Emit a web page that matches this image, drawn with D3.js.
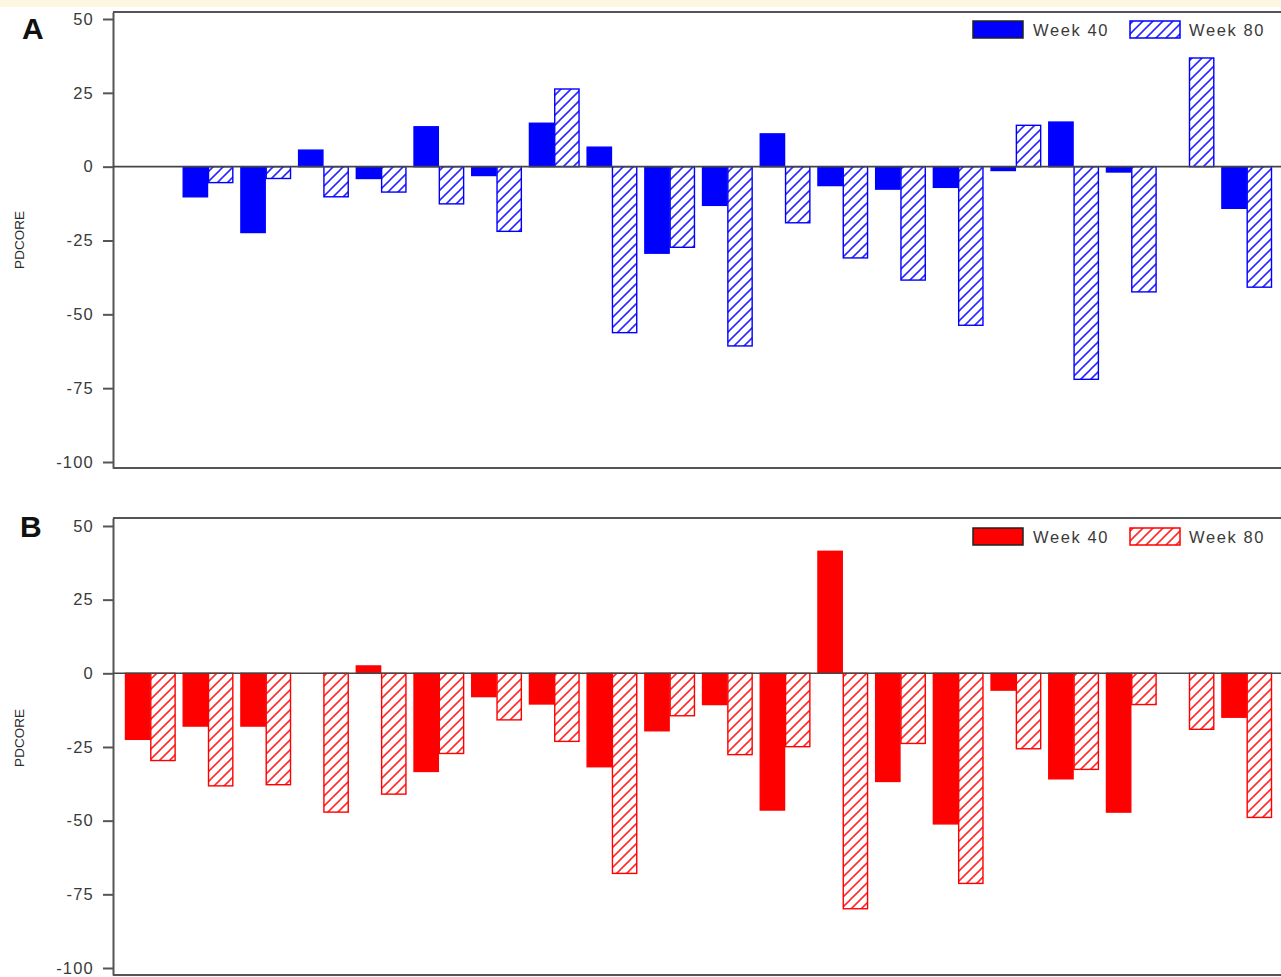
<!DOCTYPE html>
<html>
<head>
<meta charset="utf-8">
<script src="https://cdn.jsdelivr.net/npm/d3@7"></script>
<style>
  html, body { margin: 0; padding: 0; background: #ffffff; }
  svg { display: block; font-family: "Liberation Sans", Arial, sans-serif; }
</style>
</head>
<body>
<script>
// Subjects along the x axis (not labelled on the chart)
const subjects = ["S01","S02","S03","S04","S05","S06","S07","S08","S09","S10",
                  "S11","S12","S13","S14","S15","S16","S17","S18","S19","S20"];
const weeks = ["Week 40", "Week 80"];
const yTicks = [50, 25, 0, -25, -50, -75, -100];

// Panel A: change in PDCORE per subject (null = no value)
const aWeek40 = [null, -10.2, -22.3, 5.6, -4.0, 13.5, -3.0, 14.7, 6.6, -29.3,
                 -13.1, 11.1, -6.4, -7.6, -7.0, -1.3, 15.1, -1.8, null, -14.1];
const aWeek80 = [null, -5.4, -4.0, -10.2, -8.6, -12.6, -21.9, 26.3, -56.2, -27.3,
                 -60.7, -19.0, -30.9, -38.4, -53.7, 14.0, -72.0, -42.4, 36.8, -40.8];

// Panel B: change in PDCORE per subject (null = no value)
const bWeek40 = [-22.4, -17.9, -17.9, null, 2.5, -33.3, -7.9, -10.4, -31.7, -19.5,
                 -10.6, -46.4, 41.4, -36.7, -51.1, -5.7, -35.8, -47.1, null, -14.9];
const bWeek80 = [-29.6, -38.2, -37.8, -47.1, -41.0, -27.2, -15.8, -23.1, -67.9, -14.4,
                 -27.6, -24.9, -79.9, -23.8, -71.3, -25.6, -32.6, -10.6, -19.0, -48.9];

const W = 1281, H = 977;
const svg = d3.select("body").append("svg").attr("width", W).attr("height", H);

// thin cream strip along the top edge
svg.append("rect").attr("x", 0).attr("y", 0).attr("width", W).attr("height", 7)
   .attr("fill", "#fdf6e1");

const defs = svg.append("defs");
function hatch(id, color) {
  const s = 10;
  const p = defs.append("pattern").attr("id", id)
    .attr("patternUnits", "userSpaceOnUse").attr("width", s).attr("height", s);
  p.append("rect").attr("width", s).attr("height", s).attr("fill", "#fff");
  p.append("path").attr("d", `M-2,2 L2,-2 M0,${s} L${s},0 M${s - 2},${s + 2} L${s + 2},${s - 2}`)
    .attr("stroke", color).attr("stroke-width", 1.6).attr("fill", "none");
}
hatch("hatchBlue", "#2a2aff");
hatch("hatchRed", "#ff2a2a");

const axisColor = "#555";
const textColor = "#3a3a3a";

const x = d3.scaleBand().domain(subjects).range([113, 1284])
  .paddingInner(0.123).paddingOuter(0.208);
const xInner = d3.scaleBand().domain(weeks).range([0, x.bandwidth()]);

function drawPanel(opt) {
  const g = svg.append("g");
  const y = d3.scaleLinear().domain(opt.domain).range([opt.bottom, opt.top]);

  // frame: top and bottom lines running to the right edge
  g.append("line").attr("x1", 113).attr("x2", W + 5)
    .attr("y1", opt.top).attr("y2", opt.top)
    .attr("stroke", axisColor).attr("stroke-width", 2);
  g.append("line").attr("x1", 113).attr("x2", W + 5)
    .attr("y1", opt.bottom).attr("y2", opt.bottom)
    .attr("stroke", axisColor).attr("stroke-width", 2);

  // y axis
  const ax = g.append("g").attr("transform", "translate(113,0)")
    .call(d3.axisLeft(y).tickValues(yTicks).tickFormat(d => String(d))
      .tickSize(10).tickSizeOuter(0).tickPadding(9));
  ax.select(".domain").attr("stroke", axisColor).attr("stroke-width", 2);
  ax.selectAll(".tick line").attr("stroke", axisColor).attr("stroke-width", 2);
  ax.selectAll(".tick text").attr("fill", textColor)
    .style("font-size", "16.5px").style("letter-spacing", "1.2px")
    .style("font-family", "'Liberation Sans', Arial, sans-serif");

  // bars
  const series = [
    { key: "Week 40", values: opt.w40, fill: opt.color, stroke: opt.color },
    { key: "Week 80", values: opt.w80, fill: "url(#" + opt.hatch + ")", stroke: opt.color }
  ];
  series.forEach(s => {
    const rows = subjects.map((d, i) => ({ subject: d, v: s.values[i] }))
                         .filter(r => r.v !== null);
    g.append("g").selectAll("rect").data(rows).join("rect")
      .attr("x", r => x(r.subject) + xInner(s.key) + 0.5)
      .attr("width", xInner.bandwidth() - 1)
      .attr("y", r => y(Math.max(0, r.v)))
      .attr("height", r => Math.abs(y(r.v) - y(0)))
      .attr("fill", s.fill)
      .attr("stroke", s.stroke).attr("stroke-width", 1.4);
  });

  // zero line
  g.append("line").attr("x1", 113).attr("x2", W + 5)
    .attr("y1", y(0)).attr("y2", y(0))
    .attr("stroke", "#444").attr("stroke-width", 1.6);

  // panel letter
  g.append("text").attr("x", opt.letterX).attr("y", opt.letterY)
    .attr("font-size", 30).attr("font-weight", "bold").attr("fill", "#111")
    .text(opt.letter);

  // y axis title
  g.append("text")
    .attr("transform", `translate(24,${opt.titleY}) rotate(-90)`)
    .attr("text-anchor", "middle").attr("font-size", 13.5).attr("fill", "#2a2a2a")
    .text("PDCORE");

  // legend
  const lg = g.append("g").attr("transform", `translate(973,${opt.legendY})`);
  lg.append("rect").attr("x", 0).attr("y", 0).attr("width", 50).attr("height", 17)
    .attr("fill", opt.color).attr("stroke", "#222").attr("stroke-width", 1.5);
  lg.append("text").attr("x", 60).attr("y", 14.5).attr("font-size", 16.5)
    .attr("letter-spacing", "1.6px").attr("fill", textColor).text(weeks[0]);
  lg.append("rect").attr("x", 157).attr("y", 0).attr("width", 50).attr("height", 17)
    .attr("fill", "url(#" + opt.hatch + ")").attr("stroke", opt.color).attr("stroke-width", 1.5);
  lg.append("text").attr("x", 216).attr("y", 14.5).attr("font-size", 16.5)
    .attr("letter-spacing", "1.6px").attr("fill", textColor).text(weeks[1]);
}

drawPanel({
  w40: aWeek40, w80: aWeek80, color: "#0000ff", hatch: "hatchBlue",
  domain: [-102.03, 52.37], top: 12, bottom: 468,
  letter: "A", letterX: 22, letterY: 39, titleY: 240, legendY: 21
});
drawPanel({
  w40: bWeek40, w80: bWeek80, color: "#ff0000", hatch: "hatchRed",
  domain: [-102.38, 52.71], top: 518, bottom: 975,
  letter: "B", letterX: 20, letterY: 537, titleY: 738, legendY: 528
});
</script>
</body>
</html>
